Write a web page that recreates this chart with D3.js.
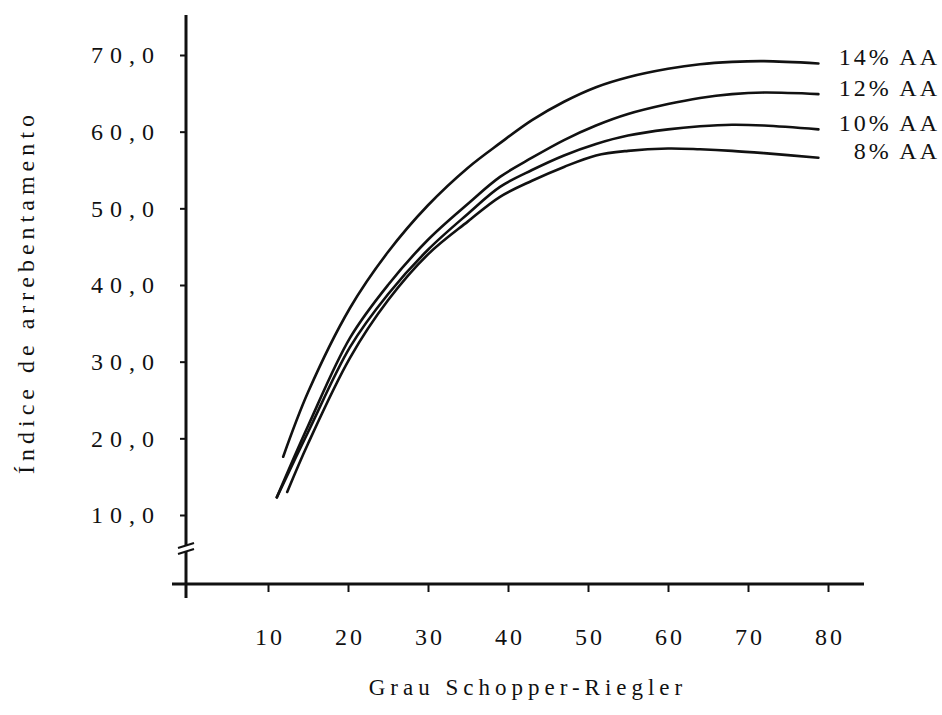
<!DOCTYPE html>
<html>
<head>
<meta charset="utf-8">
<script src="https://cdn.jsdelivr.net/npm/d3@7/dist/d3.min.js"></script>
<style>
  body { margin: 0; background: #fff; }
  text { font-family: "Liberation Serif", "DejaVu Serif", serif; fill: #111; }
</style>
</head>
<body>
<svg id="chart" width="942" height="715"></svg>
<script>
// values
const grauTicks = [10, 20, 30, 40, 50, 60, 70, 80];
const indiceTicks = [10, 20, 30, 40, 50, 60, 70];
const curveNames = ["14% AA", "12% AA", "10% AA", "8% AA"];

// [grau SR, indice]
const aa14 = [[11.9,17.6],[15,26.0],[20.25,37.0],[25,44.3],[30,50.4],[35,55.3],[39,58.5],[43,61.5],[47,63.9],[51,65.8],[55,67.1],[60,68.2],[64,68.8],[68,69.1],[72,69.2],[78.8,68.9]];
const aa12 = [[11.1,12.3],[15,21.6],[20.25,33.1],[25,40.0],[30,45.9],[35,50.6],[39,54.1],[43,56.6],[47,58.9],[51,60.8],[55,62.3],[60,63.6],[64,64.4],[68,64.9],[72,65.1],[78.8,64.9]];
const aa10 = [[11.1,12.3],[15,20.8],[20.25,31.9],[25,38.8],[30,44.6],[35,49.3],[39,52.8],[43,55.0],[47,56.9],[51,58.4],[55,59.5],[60,60.3],[64,60.7],[68,60.9],[72,60.8],[78.8,60.3]];
const aa8  = [[12.4,13.0],[15,19.3],[20.25,30.5],[25,38.0],[30,44.0],[35,48.3],[39,51.5],[43,53.6],[47,55.4],[51,56.9],[55,57.5],[60,57.8],[64,57.7],[68,57.5],[72,57.2],[78.8,56.6]];

const series = [aa14, aa12, aa10, aa8];

let svg = d3.select("#chart");

let x = d3.scaleLinear().domain([0, 80]).range([188, 828]);
let y = d3.scaleLinear().domain([10, 70]).range([515, 55]);

const axisX = 186, axisY = 584;

// y axis with a break near the bottom
svg.append("line").attr("x1", axisX).attr("x2", axisX).attr("y1", 15).attr("y2", 545)
  .attr("stroke", "#111").attr("stroke-width", 3);
svg.append("line").attr("x1", axisX).attr("x2", axisX).attr("y1", 552).attr("y2", 598)
  .attr("stroke", "#111").attr("stroke-width", 3);
[0, 6].forEach(function(o) {
  svg.append("line")
    .attr("x1", axisX - 8).attr("y1", 548 + o)
    .attr("x2", axisX + 8).attr("y2", 543 + o)
    .attr("stroke", "#111").attr("stroke-width", 2.2);
});

// x axis
svg.append("line").attr("x1", 172).attr("x2", 864).attr("y1", axisY).attr("y2", axisY)
  .attr("stroke", "#111").attr("stroke-width", 3);

let gy = svg.append("g")
  .attr("transform", "translate(" + axisX + ",0)")
  .call(d3.axisLeft(y).tickValues(indiceTicks).tickSize(6).tickPadding(26)
    .tickFormat(function(d) { return d3.format(".1f")(d).replace(".", ","); }));
gy.select(".domain").remove();
gy.selectAll(".tick line").attr("stroke", "#111").attr("stroke-width", 2);
gy.selectAll(".tick text")
  .style("font-size", "24px").attr("letter-spacing", 7).attr("dx", 7)
  .attr("font-family", "Liberation Serif").attr("fill", "#111");

let gx = svg.append("g")
  .attr("transform", "translate(0," + axisY + ")")
  .call(d3.axisBottom(x).tickValues(grauTicks).tickSize(8).tickPadding(36));
gx.select(".domain").remove();
gx.selectAll(".tick line").attr("stroke", "#111").attr("stroke-width", 2);
gx.selectAll(".tick text")
  .style("font-size", "24px").attr("letter-spacing", 3).attr("dx", 1.5)
  .attr("font-family", "Liberation Serif").attr("fill", "#111");

// curves
let line = d3.line()
  .x(function(d) { return x(d[0]); })
  .y(function(d) { return y(d[1]); })
  .curve(d3.curveCatmullRom.alpha(0.5));

svg.selectAll(".curve")
  .data(series).enter().append("path")
  .attr("class", "curve")
  .attr("d", line)
  .attr("fill", "none")
  .attr("stroke", "#111")
  .attr("stroke-width", 2.6)
  .attr("stroke-linecap", "round");

// labels at the right
svg.selectAll(".clabel")
  .data(series).enter().append("text")
  .attr("class", "clabel")
  .attr("x", 940)
  .attr("y", function(d) { return y(d[d.length - 1][1]) - 4; })
  .attr("dominant-baseline", "middle")
  .attr("text-anchor", "end")
  .attr("letter-spacing", 3)
  .style("font-size", "24px")
  .text(function(d, i) { return curveNames[i]; });

// axis titles
svg.append("text")
  .attr("x", 528).attr("y", 690)
  .attr("text-anchor", "middle").attr("dominant-baseline", "middle")
  .attr("letter-spacing", 5)
  .style("font-size", "23px")
  .text("Grau Schopper-Riegler");

svg.append("text")
  .attr("transform", "translate(28,292) rotate(-90)")
  .attr("text-anchor", "middle").attr("dominant-baseline", "middle")
  .attr("letter-spacing", 5)
  .style("font-size", "24px")
  .text("Índice de arrebentamento");
</script>
</body>
</html>
